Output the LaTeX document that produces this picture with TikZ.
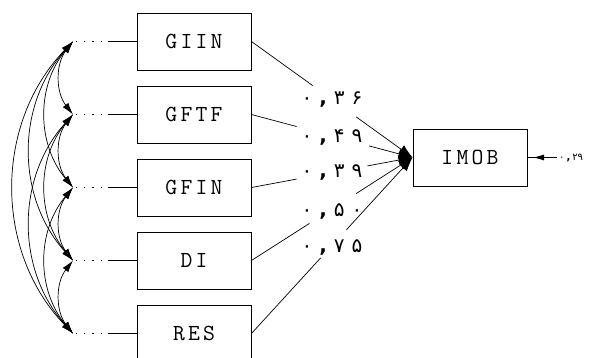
\documentclass[tikz,border=0pt]{standalone}
\usepackage{fontspec}
\newfontfamily\boxfont[LetterSpace=14]{Latin Modern Mono}
\newfontfamily\fa{DejaVu Sans}
\usetikzlibrary{arrows.meta,calc}
\newcommand\lblsep{\hspace{7pt}}
\begin{document}
\begin{tikzpicture}[x=1pt,y=-1pt,
  var/.style={draw,line width=0.9pt,minimum width=114pt,minimum height=57pt,inner sep=0pt,font=\boxfont\fontsize{23}{23}\selectfont},
  lbl/.style={font=\fa\fontsize{20}{20}\selectfont,inner sep=0pt},
  reg/.style={line width=0.7pt},
  regtip/.style={line width=0.7pt,-{Latex[length=14pt,width=10pt]}},
  cov/.style={{Latex[length=12pt,width=7pt]}-{Latex[length=12pt,width=7pt]},line width=0.7pt},
  dots/.style={line width=1.4pt,dash pattern=on 1.2pt off 7pt},
]
\useasboundingbox (0,0) rectangle (594,358);
% observed variables
\node[var] (n1) at (194,41.5) {GIIN};
\node[var] (n2) at (194,114.5) {GFTF};
\node[var] (n3) at (194,187.5) {GFIN};
\node[var] (n4) at (194,260.5) {DI};
\node[var] (n5) at (194,333.5) {RES};
\node[var] (im) at (470,157.5) {IMOB};
% left points
\foreach \k/\y in {1/41.5,2/114.5,3/187.5,4/260.5,5/333.5}{
  \coordinate (p\k) at (73,\y);
  \coordinate (q\k) at (108,\y);
  \coordinate (r\k) at (76,\y);
  \draw[dots] (r\k) -- (q\k);
  \draw[reg] (q\k) -- (n\k.west);
}
% covariances
\foreach \i/\j/\b in {1/2/38,2/3/38,3/4/38,4/5/38,1/3/40,2/4/40,3/5/40,1/4/42,2/5/42,1/5/44}{
  \draw[cov] (p\i) to[bend right=\b] (p\j);
}
% regressions with gaps
\foreach \k/\a/\b in {1/0.38/0.65,2/0.28/0.73,3/0.28/0.72,4/0.36/0.65,5/0.43/0.59}{
  \draw[reg] (n\k.east) -- ($(n\k.east)!\a!(im.west)$);
  \draw[regtip] ($(n\k.east)!\b!(im.west)$) -- (im.west);
}
% labels
\node[lbl] (l1) at (332,100) {۰\lblsep{\bfseries,}\lblsep۳\lblsep۶};
\node[lbl] (l2) at (332,137) {۰\lblsep{\bfseries,}\lblsep۴\lblsep۹};
\node[lbl] (l3) at (332,173) {۰\lblsep{\bfseries,}\lblsep۳\lblsep۹};
\node[lbl] (l4) at (332,211) {۰\lblsep{\bfseries,}\lblsep۵\lblsep۰};
\node[lbl] (l5) at (332,247) {۰\lblsep{\bfseries,}\lblsep۷\lblsep۵};
% error term
\coordinate (e) at (557,157.5);
\coordinate (ea) at (533,157.5);
\draw[reg] (e) -- (im.east);
\draw[line width=0.8pt,-{Latex[length=11pt,width=6pt]}] (e) -- (ea);
\node[font=\fa\fontsize{10}{10}\selectfont,inner sep=0pt,anchor=west] (et) at (559,158) {۰\hspace{2pt}{\bfseries,}\hspace{2pt}۲۹};
\end{tikzpicture}
\end{document}
